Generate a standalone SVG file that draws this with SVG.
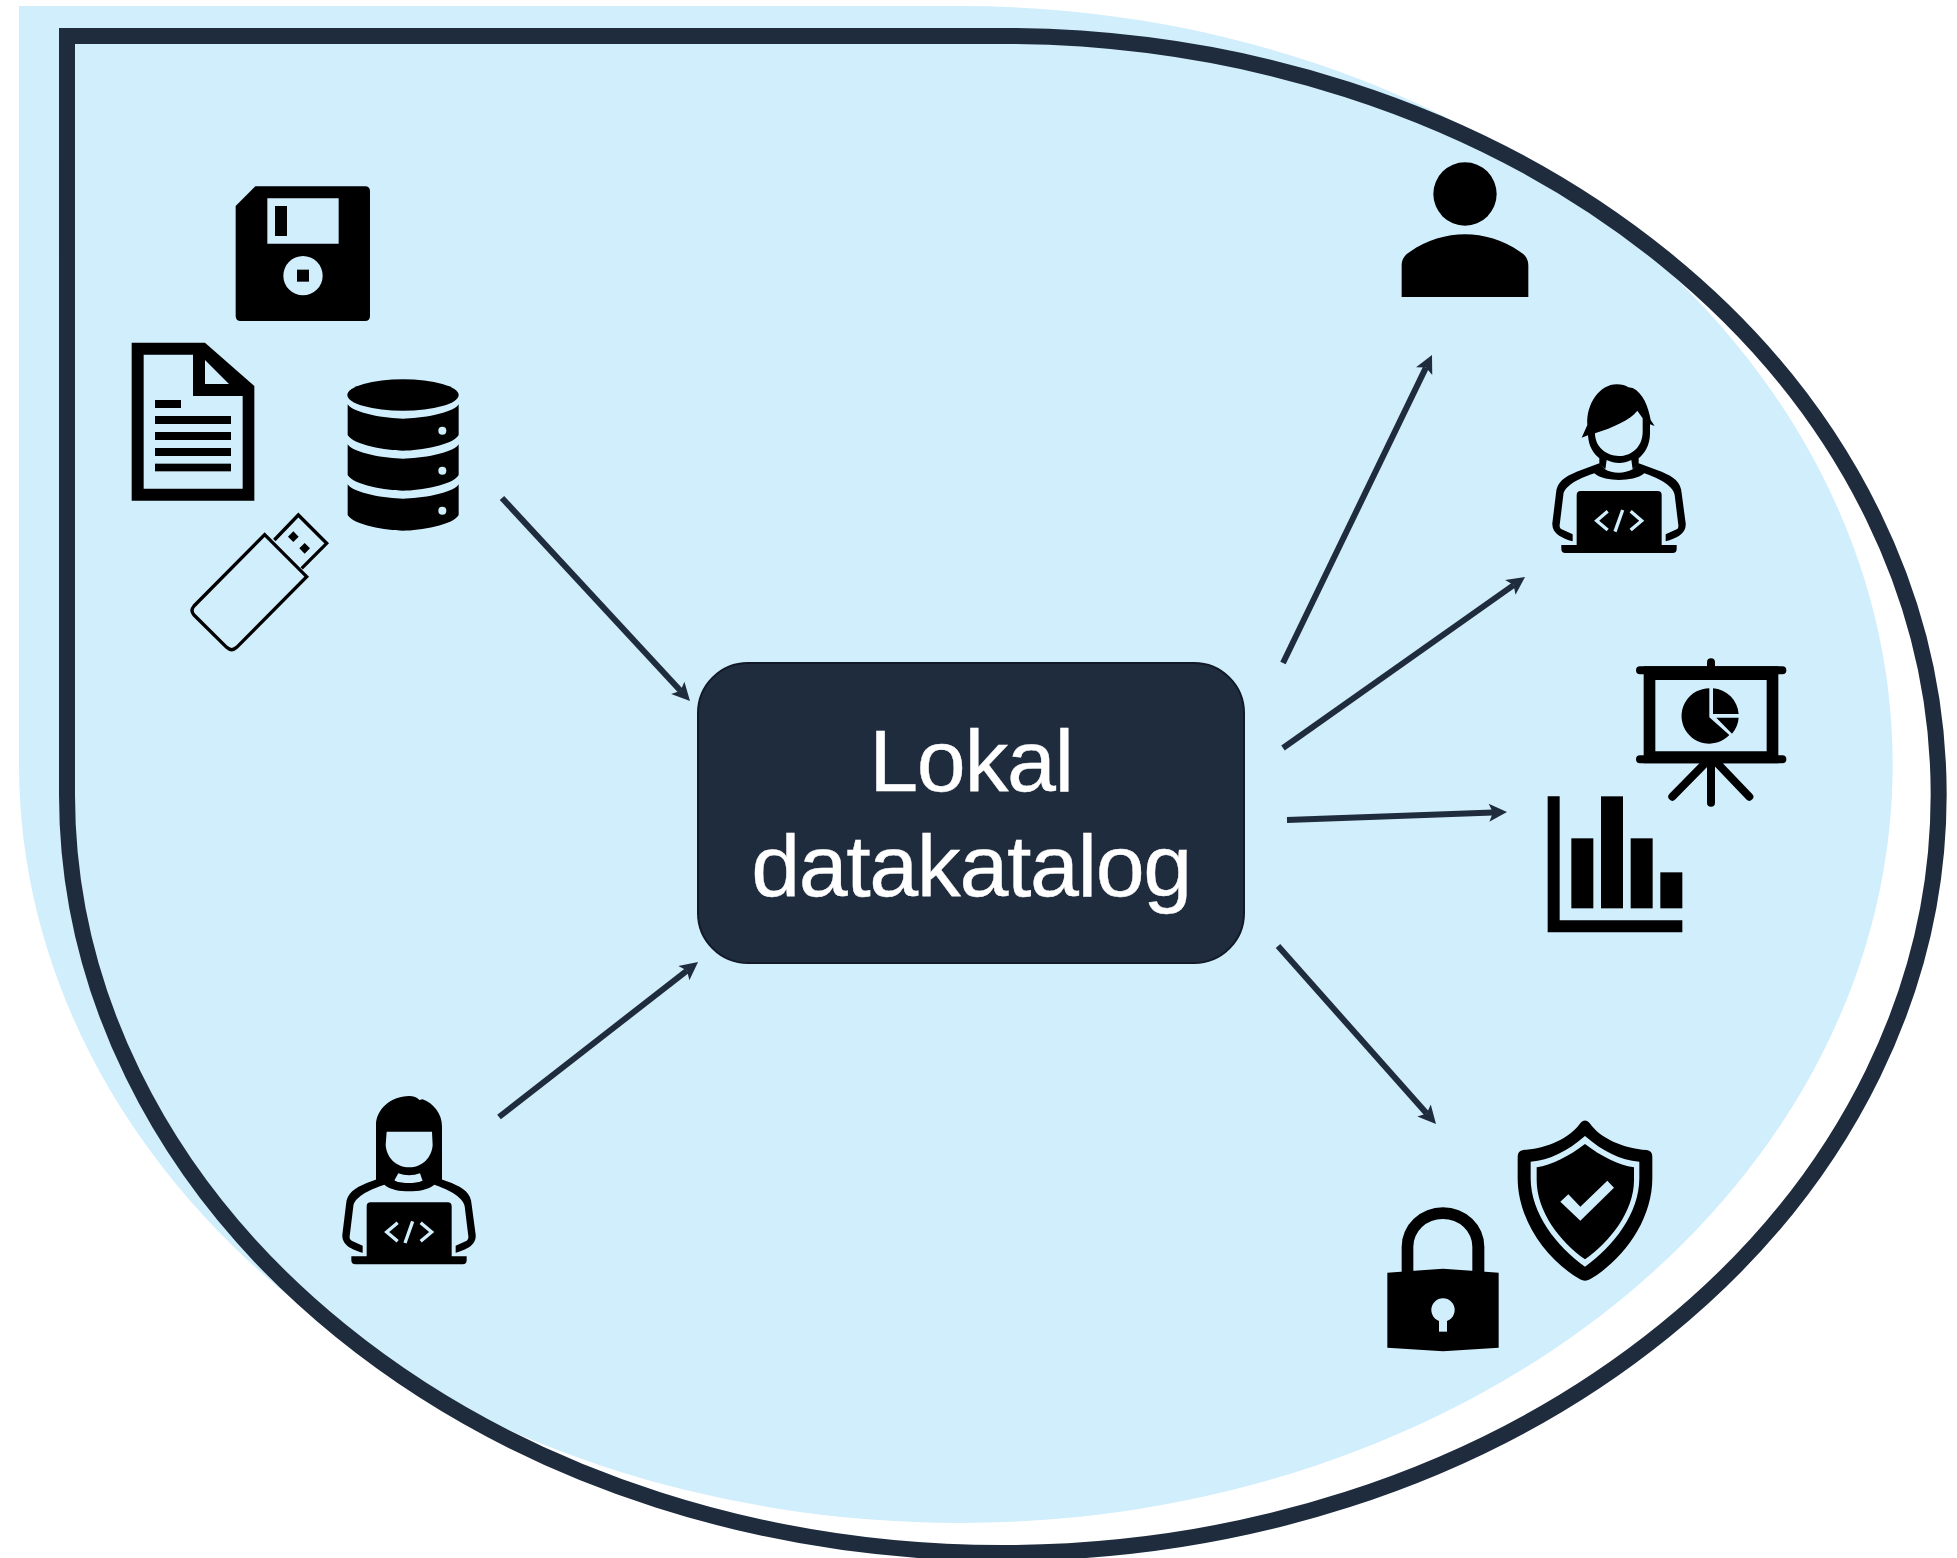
<svg xmlns="http://www.w3.org/2000/svg" width="1957" height="1558" viewBox="0 0 1957 1558">
<style>
.bg{fill:#d1eefc}
.k{fill:#000}
.eo{fill:#000;fill-rule:evenodd}
.lt{fill:#d1eefc}
.ln{fill:none;stroke:#000}
.code{fill:none;stroke:#d1eefc;stroke-width:10}
.conn{fill:none;stroke:#1f2c3e;stroke-width:6;marker-end:url(#ah)}
.lbl{font-family:"Liberation Sans",Arial,sans-serif;font-size:88px;letter-spacing:-1.4px;fill:#fff;stroke:#fff;stroke-width:.4;text-anchor:middle}
</style>
<defs>
<marker id="ah" markerUnits="userSpaceOnUse" markerWidth="22" markerHeight="22" viewBox="0 0 22 22" refX="6" refY="11" orient="auto">
<path d="M2 2 L20 11 L2 20 L6 11Z" fill="#1f2c3e"/>
</marker>
<g id="devbody">
<path class="k" d="M298 280 L230 305 C195 320 170 335 168 370 L157 460 C155 490 185 505 218 514 V493 L185 478 C180 476 178 470 179 465 L190 375 C192 345 250 320 283 310 C300 325 330 330 357 330 C385 330 415 325 433 310 C465 320 520 345 524 375 L535 465 C536 470 534 476 530 478 L497 493 V514 C530 505 560 490 557 460 L545 370 C543 335 520 320 485 305 L416 280 L398 298 C385 305 370 308 357 308 C340 308 325 305 315 298Z"/>
<path class="k" d="M230 375 Q230 363 242 363 H473 Q485 363 485 375 V525 H530 V537 Q530 549 518 549 H196 Q184 549 184 537 V525 H230Z"/>
<path class="code" d="M323 424 L290 452 L323 480 M368 420 L345 485 M392 424 L425 452 L392 480"/>
</g>
</defs>

<path id="backdrop" class="bg" d="M19 6 H960 A933 758.5 0 0 1 960 1523 A941 758.5 0 0 1 19 764Z"/>
<path id="boundary" fill="none" stroke="#1f2c3e" stroke-width="16" d="M67 36 H1002 A937 758.5 0 0 1 1002 1553 A935 758.5 0 0 1 67 795Z"/>

<g id="catalog">
<rect x="698" y="663" width="546" height="300" rx="50" ry="50" fill="#1f2c3e" stroke="#111a26" stroke-width="2"/>
<text class="lbl" x="971" y="791">Lokal</text>
<text class="lbl" x="971" y="896">datakatalog</text>
</g>

<g id="connectors">
<path class="conn" d="M502 498 L680.5 690.7"/>
<path class="conn" d="M499 1117 L687 970.6"/>
<path class="conn" d="M1283 663 L1425.9 367.6"/>
<path class="conn" d="M1283 748 L1513.6 585.1"/>
<path class="conn" d="M1287 820 L1493 812.5"/>
<path class="conn" d="M1278 946 L1426.7 1113.5"/>
</g>

<g id="floppy" transform="translate(120 170) scale(.33333)">
<path class="eo" d="M347 108 L406 49 H735 Q750 49 750 64 V438 Q750 453 735 453 H362 Q347 453 347 438Z M442 85 V221 H656 V85Z M490 317 A59 59 0 1 0 608 317 A59 59 0 1 0 490 317Z"/>
<rect class="k" x="465" y="108" width="36" height="90"/>
<rect class="k" x="531" y="299" width="36" height="36"/>
</g>

<g id="document" transform="translate(120 170) scale(.33333)">
<path class="eo" d="M35 518 H255 L403 648 V992 H35Z M71 554 V956 H368 V678 H219 V554Z M255 570 V642 H327Z"/>
<rect class="k" x="105" y="690" width="78" height="24"/>
<rect class="k" x="105" y="738" width="228" height="24"/>
<rect class="k" x="105" y="786" width="228" height="24"/>
<rect class="k" x="105" y="834" width="228" height="24"/>
<rect class="k" x="105" y="881" width="228" height="23"/>
</g>

<g id="database" transform="translate(120 170) scale(.33333)">
<ellipse class="k" cx="849" cy="675" rx="167" ry="47"/>
<path class="k" d="M683 703 C700 730 800 746 849 746 C900 746 1000 730 1016 703 V795 C1000 825 900 842 849 842 C800 842 700 825 683 795Z"/>
<path class="k" d="M683 823 C700 850 800 866 849 866 C900 866 1000 850 1016 823 V915 C1000 945 900 962 849 962 C800 962 700 945 683 915Z"/>
<path class="k" d="M683 943 C700 970 800 986 849 986 C900 986 1000 970 1016 943 V1035 C1000 1065 900 1082 849 1082 C800 1082 700 1065 683 1035Z"/>
<circle class="lt" cx="967" cy="782" r="12"/>
<circle class="lt" cx="967" cy="902" r="12"/>
<circle class="lt" cx="967" cy="1022" r="12"/>
</g>

<g id="usb" transform="translate(120 170) scale(.33333)">
<path class="ln" stroke-width="10" d="M434 1094 L560 1220 L350 1432 Q335 1446 320 1432 L222 1335 Q210 1322 222 1308Z"/>
<path class="ln" stroke-width="10" d="M463 1110 L535 1035 L620 1120 L545 1195"/>
<path class="k" d="M520 1084 L536 1100 L520 1116 L504 1100Z M554 1119 L570 1135 L554 1151 L538 1135Z"/>
</g>

<g id="developer-left" transform="translate(330 1080) scale(.33333)">
<use href="#devbody" x="-120" y="4"/>
<path class="eo" d="M138 305 V135 C138 90 180 48 238 48 C250 48 262 52 268 60 L278 58 C310 70 336 100 336 140 V305 L300 312 C270 316 200 316 170 312Z M170 155 L167 195 C170 235 200 262 238 262 C275 262 305 235 308 195 L306 155Z M205 280 L192 303 C225 311 250 311 278 303 L270 280 C250 288 225 288 205 280Z"/>
</g>

<g id="user" transform="translate(1380 140) scale(.33333)">
<circle class="k" cx="255" cy="162" r="95"/>
<path class="k" d="M65 471 V375 Q65 350 90 335 C140 300 200 283 255 283 C310 283 370 300 420 335 Q445 350 445 375 V471Z"/>
</g>

<g id="developer-right" transform="translate(1500 370) scale(.33333)">
<use href="#devbody"/>
<path class="eo" d="M245 203 L262 165 C258 100 300 43 350 43 C365 43 378 46 385 52 L398 54 C430 70 445 110 452 150 L464 168 L450 163 V190 C450 225 435 250 416 265 V282 L398 298 L394 270 C370 282 345 282 320 270 L316 298 L298 282 V265 C280 250 266 230 264 196Z M285 190 C285 230 318 258 357 258 C395 258 428 230 428 185 V145 L412 122 C390 150 340 172 285 190Z"/>
</g>

<g id="presentation" transform="translate(1520 640) scale(.33333)">
<path class="eo" d="M371 79 H775 V370 H371Z M406 120 V334 H740 V120Z"/>
<path class="ln" stroke-width="24" stroke-linecap="round" d="M360 91 H787 M360 358 H787 M573 67 V91 M573 370 V488 M555 370 L457 470 M592 370 L688 470"/>
<path class="k" d="M579 145 V222 H656 A83 83 0 0 0 579 145Z M589 233 H656 A83 83 0 0 1 636 281Z M568 145 V232 L628 285 A83 83 0 1 1 568 145Z"/>
</g>

<g id="chart" transform="translate(1520 640) scale(.33333)">
<path class="k" d="M83 469 H119 V841 H487 V877 H83Z"/>
<rect class="k" x="154" y="595" width="66" height="210"/>
<rect class="k" x="243" y="469" width="66" height="336"/>
<rect class="k" x="332" y="595" width="66" height="210"/>
<rect class="k" x="421" y="697" width="66" height="108"/>
</g>

<g id="shield" transform="translate(1370 1100) scale(.33333)">
<path class="eo" d="M632 68 Q645 55 658 68 C690 115 760 145 830 150 Q847 152 847 170 V235 C847 360 760 480 660 538 Q645 546 630 538 C530 480 443 360 443 235 V170 Q443 152 460 150 C530 145 600 115 632 68Z M645 108 C590 155 540 180 482 185 V235 C482 340 560 440 645 500 C730 440 808 340 808 235 V185 C750 180 700 155 645 108Z M645 132 C695 170 745 195 792 202 V240 C792 335 720 425 645 478 C570 425 500 335 500 240 V202 C545 195 595 170 645 132Z M571 305 L631 362 L732 263 L712 242 L631 320 L595 283Z"/>
</g>

<g id="lock" transform="translate(1370 1100) scale(.33333)">
<path class="k" d="M95 520 V440 A124 118 0 0 1 343 440 V520 H307 V440 A88.5 83 0 0 0 130 440 V520Z"/>
<path class="k" d="M52 518 L219 506 L386 518 V743 L219 754 L52 743Z"/>
<circle class="lt" cx="219" cy="630" r="35"/>
<rect class="lt" x="207" y="650" width="24" height="45"/>
</g>
</svg>
